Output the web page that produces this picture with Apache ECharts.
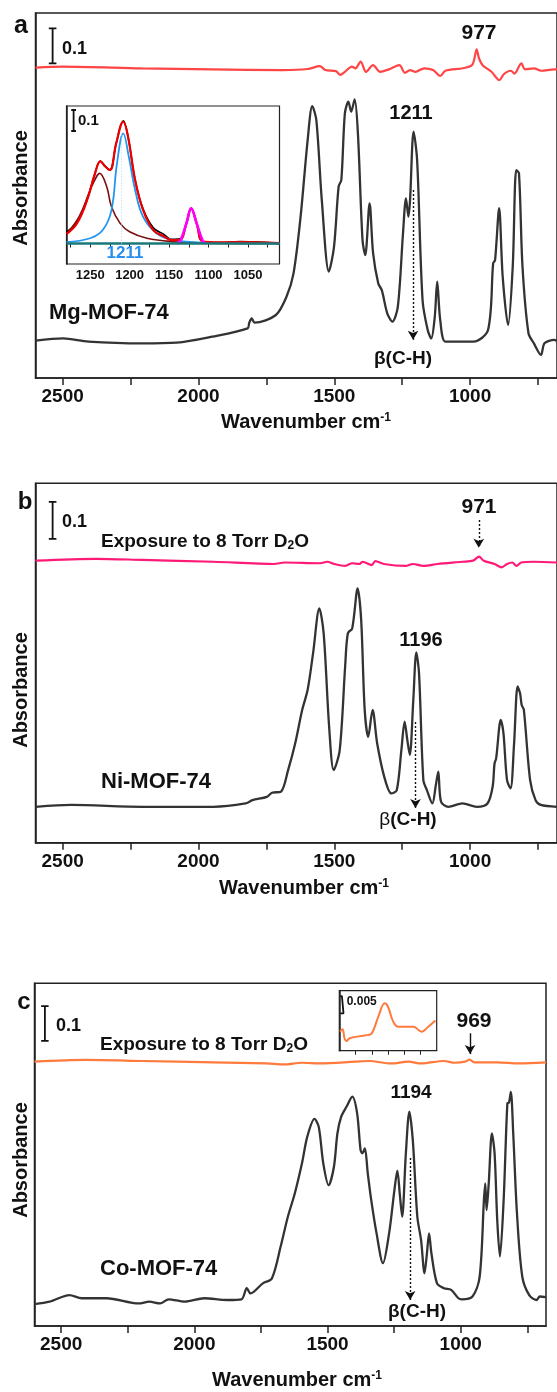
<!DOCTYPE html>
<html>
<head>
<meta charset="utf-8">
<script src="https://cdn.jsdelivr.net/npm/echarts@6/dist/echarts.min.js"></script>
<style>
html,body{margin:0;padding:0;background:#fff;}
#chart{width:557px;height:1392px;}
</style>
</head>
<body>
<div id="chart"></div>
<script>
// x tick / label values (wavenumber, cm-1)
var xTicks = [750, 1000, 1250, 1500, 1750, 2000, 2250, 2500];
var xLabels = [1000, 1500, 2000, 2500];
var insetTicks = [1025, 1050, 1075, 1100, 1125, 1150, 1175, 1200, 1225, 1250, 1275];
var insetLabels = [1050, 1100, 1150, 1200, 1250];
var insetCTicks = [915, 940, 965, 990, 1015];

// panel a : Mg-MOF-74
var mgSpectrum = [[2600,0.107],[2499,0.113],[2405,0.104],[2210,0.099],[2080,0.101],[1949,0.118],[1819,0.142],[1813,0.158],[1804,0.170],[1793,0.158],[1715,0.180],[1676,0.232],[1650,0.299],[1624,0.461],[1598,0.680],[1581,0.777],[1566,0.737],[1546,0.509],[1520,0.304],[1501,0.375],[1484,0.547],[1474,0.566],[1461,0.756],[1448,0.790],[1438,0.761],[1425,0.796],[1413,0.699],[1396,0.394],[1386,0.351],[1370,0.499],[1357,0.356],[1338,0.270],[1325,0.251],[1305,0.185],[1286,0.161],[1266,0.204],[1247,0.413],[1236,0.513],[1227,0.461],[1221,0.509],[1208,0.704],[1195,0.623],[1175,0.223],[1156,0.137],[1143,0.113],[1130,0.175],[1121,0.275],[1110,0.166],[1091,0.104],[1039,0.104],[987,0.104],[934,0.137],[915,0.328],[908,0.337],[893,0.485],[880,0.290],[860,0.151],[843,0.318],[830,0.594],[820,0.585],[807,0.318],[785,0.128],[765,0.099],[739,0.066],[726,0.099],[690,0.109],[680,0.105]];
var mgDiff = [[2600,0.887],[2500,0.890],[2210,0.885],[1950,0.882],[1690,0.880],[1598,0.883],[1553,0.891],[1533,0.880],[1494,0.877],[1478,0.866],[1461,0.875],[1435,0.890],[1422,0.885],[1403,0.904],[1383,0.875],[1357,0.894],[1331,0.875],[1299,0.882],[1260,0.894],[1240,0.872],[1221,0.880],[1201,0.875],[1169,0.885],[1136,0.880],[1110,0.863],[1091,0.878],[1026,0.885],[993,0.894],[984,0.913],[976,0.939],[967,0.913],[954,0.894],[921,0.875],[892,0.851],[876,0.868],[850,0.878],[837,0.870],[811,0.899],[798,0.882],[765,0.885],[739,0.878],[690,0.882],[680,0.882]];

// panel a inset : band fit 1280-1010
var insetData = [[1280,0.055],[1267,0.100],[1254,0.207],[1244,0.334],[1237,0.393],[1231,0.369],[1225,0.350],[1217,0.477],[1208,0.585],[1202,0.509],[1193,0.302],[1183,0.165],[1170,0.075],[1157,0.045],[1147,0.020],[1136,0.022],[1128,0.096],[1122,0.168],[1115,0.096],[1107,0.009],[1086,0.004],[1060,0.009],[1010,0.0]];
var insetFit = [[1280,0.045],[1267,0.094],[1254,0.205],[1244,0.332],[1237,0.391],[1231,0.367],[1225,0.350],[1217,0.477],[1208,0.580],[1202,0.509],[1193,0.302],[1183,0.160],[1170,0.064],[1157,0.035],[1147,0.016],[1136,0.018],[1128,0.096],[1122,0.166],[1115,0.096],[1107,0.009],[1086,0.005],[1060,0.007],[1010,0.002]];
var band1237 = [[1280,0.046],[1264,0.128],[1250,0.255],[1242,0.318],[1238,0.334],[1229,0.270],[1223,0.175],[1212,0.096],[1200,0.056],[1178,0.025],[1145,0.009],[1100,0.002],[1010,0]];
var band1211 = [[1280,0.007],[1250,0.025],[1234,0.064],[1223,0.159],[1216,0.382],[1208,0.525],[1201,0.413],[1193,0.255],[1183,0.128],[1166,0.049],[1145,0.017],[1103,0.004],[1010,0]];
var band1122 = [[1140,0],[1136,0.010],[1128,0.096],[1122,0.168],[1115,0.096],[1107,0.010],[1103,0]];
var insetBase = [[1280,0],[1010,0]];

// panel b : Ni-MOF-74
var niSpectrum = [[2600,0.097],[2469,0.102],[2207,0.097],[1945,0.097],[1827,0.106],[1801,0.115],[1748,0.124],[1729,0.135],[1696,0.138],[1670,0.196],[1644,0.268],[1618,0.359],[1598,0.413],[1578,0.512],[1555,0.633],[1539,0.565],[1519,0.314],[1502,0.196],[1480,0.250],[1460,0.476],[1450,0.566],[1434,0.579],[1414,0.687],[1401,0.602],[1388,0.359],[1375,0.286],[1359,0.359],[1342,0.268],[1316,0.178],[1290,0.133],[1270,0.142],[1253,0.250],[1241,0.327],[1231,0.277],[1222,0.237],[1209,0.386],[1198,0.514],[1188,0.458],[1172,0.169],[1159,0.142],[1139,0.106],[1126,0.156],[1117,0.192],[1107,0.111],[1080,0.097],[1028,0.106],[975,0.097],[936,0.106],[917,0.151],[910,0.214],[904,0.228],[887,0.332],[877,0.295],[864,0.169],[851,0.147],[838,0.268],[825,0.422],[816,0.404],[810,0.372],[802,0.359],[779,0.169],[759,0.115],[740,0.102],[680,0.097]];
var niDiff = [[2600,0.762],[2377,0.767],[2207,0.764],[1945,0.759],[1722,0.753],[1683,0.757],[1552,0.755],[1526,0.759],[1500,0.753],[1460,0.748],[1434,0.755],[1408,0.753],[1395,0.759],[1362,0.750],[1349,0.761],[1317,0.753],[1238,0.748],[1211,0.753],[1172,0.748],[1120,0.753],[1028,0.759],[989,0.762],[967,0.773],[950,0.762],[910,0.753],[884,0.744],[864,0.753],[845,0.757],[829,0.748],[812,0.757],[766,0.759],[680,0.757]];

// panel c : Co-MOF-74
var coSpectrum = [[2600,0.063],[2543,0.070],[2469,0.089],[2423,0.080],[2329,0.080],[2209,0.065],[2169,0.070],[2129,0.065],[2096,0.077],[2036,0.070],[1963,0.080],[1876,0.075],[1823,0.077],[1803,0.109],[1789,0.094],[1743,0.123],[1709,0.137],[1676,0.229],[1649,0.315],[1623,0.382],[1596,0.469],[1576,0.546],[1549,0.597],[1533,0.574],[1516,0.469],[1496,0.406],[1476,0.459],[1463,0.555],[1449,0.603],[1429,0.632],[1407,0.661],[1389,0.613],[1376,0.507],[1369,0.498],[1360,0.512],[1349,0.440],[1336,0.363],[1316,0.267],[1292,0.181],[1269,0.267],[1249,0.392],[1238,0.448],[1229,0.382],[1220,0.315],[1206,0.498],[1193,0.618],[1180,0.536],[1163,0.315],[1149,0.248],[1136,0.152],[1127,0.209],[1119,0.267],[1110,0.209],[1089,0.123],[1063,0.109],[1036,0.104],[1009,0.080],[996,0.077],[956,0.085],[929,0.142],[913,0.363],[908,0.411],[903,0.334],[895,0.411],[883,0.555],[873,0.498],[863,0.305],[853,0.200],[839,0.363],[825,0.642],[819,0.644],[812,0.675],[803,0.555],[789,0.325],[769,0.142],[743,0.089],[716,0.075],[703,0.085],[680,0.083]];
var coDiff = [[2600,0.762],[2409,0.767],[2196,0.764],[1929,0.760],[1729,0.757],[1663,0.754],[1596,0.759],[1529,0.757],[1396,0.762],[1343,0.764],[1263,0.757],[1196,0.762],[1149,0.757],[1063,0.764],[1023,0.759],[983,0.762],[967,0.768],[949,0.760],[863,0.760],[783,0.757],[680,0.760]];
var coInset = [[1039,0.0055],[1035,0.0062],[1032,0.0036],[1029,0.0028],[1024,0.0036],[998,0.0045],[990,0.0050],[980,0.0098],[970,0.0137],[965,0.0127],[957,0.0084],[949,0.0069],[926,0.0069],[913,0.0055],[903,0.0069],[892,0.0087]];

var FONT = '"Liberation Sans", Arial, sans-serif';
var AXC = '#222';

var chart = echarts.init(document.getElementById('chart'));

function plain(v){ return String(v); }   // no thousands separator
function gridBox(left, top, width, height, bw){
    return {left:left, top:top, width:width, height:height, show:true, borderColor:AXC, borderWidth:bw || 1.5, backgroundColor:'transparent', containLabel:false};
}
function mainX(gi, margin){
    return {type:'value', gridIndex:gi, min:680, max:2600, inverse:true,
        axisLine:{show:true, lineStyle:{color:AXC, width:1.5}},
        axisTick:{show:true, length:7, customValues:xTicks, lineStyle:{color:AXC, width:1.5}},
        axisLabel:{customValues:xLabels, formatter:plain, margin:margin, fontSize:19, fontWeight:'bold', color:'#111', fontFamily:FONT},
        splitLine:{show:false}};
}
function plainY(gi, min, max){
    return {type:'value', gridIndex:gi, min:min, max:max,
        axisLine:{show:true, onZero:false, lineStyle:{color:AXC, width:1.5}},
        axisTick:{show:false}, axisLabel:{show:false}, splitLine:{show:false}};
}
function line(gi, data, color, width, extra){
    var s = {type:'line', xAxisIndex:gi, yAxisIndex:gi, data:data, symbol:'none', showSymbol:false,
        smooth:0.3, silent:true, animation:false,
        lineStyle:{color:color, width:width}};
    for (var k in extra) s[k] = extra[k];
    return s;
}
// scale bar "I" shape drawn in data coordinates
function bar(gi, x, y0, y1, hw){
    return {type:'line', xAxisIndex:gi, yAxisIndex:gi, symbol:'none', silent:true, animation:false,
        data:[[x+hw,y0],[x-hw,y0],[x,y0],[x,y1],[x+hw,y1],[x-hw,y1]],
        lineStyle:{color:'#111', width:1.8}};
}
function arrow(x, y0, y1, dotted){
    return {silent:true, symbol:['none','arrow'], symbolSize:[8,9], label:{show:false},
        lineStyle:{color:'#111', width:1.4, type: dotted ? [2,2] : 'solid'},
        data:[[{coord:[x,y0]},{coord:[x,y1]}]]};
}
function txt(x, y, text, size, opt){
    opt = opt || {};
    return {type:'text', x:x, y:y, rotation:opt.rot || 0, z:100,
        style:{text:text, fill:opt.color || '#111', fontSize:size, fontWeight:opt.weight || 'bold', fontFamily:FONT,
            align:opt.align || 'center', verticalAlign:'middle', rich:opt.rich}};
}
var supRich = {m:{fontSize:20, fontWeight:'bold', fontFamily:FONT, fill:'#111', verticalAlign:'middle'},
               s:{fontSize:12, fontWeight:'bold', fontFamily:FONT, fill:'#111', verticalAlign:'top'}};
var subRich = {m:{fontSize:19, fontWeight:'bold', fontFamily:FONT, fill:'#111', verticalAlign:'middle'},
               s:{fontSize:12, fontWeight:'bold', fontFamily:FONT, fill:'#111', verticalAlign:'bottom'}};
function betaRich(bw){
    return {g:{fontSize:19, fontWeight:bw, fontFamily:FONT, fill:'#111'}, t:{fontSize:19, fontWeight:'bold', fontFamily:FONT, fill:'#111'}};
}

var option = {
    backgroundColor:'#fff',
    animation:false,
    grid:[
        gridBox(35.5, 13, 524.2, 365),
        gridBox(35.5, 483.3, 522, 359.4),
        gridBox(34.5, 983.3, 511.5, 342.7),
        gridBox(66.5, 106, 213, 158, 1.2),
        gridBox(339.3, 990.7, 97.4, 60, 1.2)
    ],
    xAxis:[
        mainX(0, 9), mainX(1, 10), mainX(2, 9),
        {type:'value', gridIndex:3, min:1010, max:1280, inverse:true,
            axisLine:{show:true, lineStyle:{color:AXC, width:1.2}},
            axisTick:{show:true, length:4, customValues:insetTicks, lineStyle:{color:AXC}},
            axisLabel:{customValues:insetLabels, formatter:plain, margin:5, fontSize:13, fontWeight:'bold', color:'#111', fontFamily:FONT},
            splitLine:{show:false}},
        {type:'value', gridIndex:4, min:890, max:1040, inverse:true,
            axisLine:{show:true, lineStyle:{color:AXC, width:1.2}},
            axisTick:{show:true, length:4, customValues:insetCTicks, lineStyle:{color:AXC}},
            axisLabel:{show:false}, splitLine:{show:false}}
    ],
    yAxis:[
        plainY(0, 0, 1.043), plainY(1, 0, 0.971), plainY(2, 0, 0.988),
        plainY(3, -0.0976, 0.655), plainY(4, 0, 0.01734)
    ],
    series:[
        // panel a
        line(0, mgDiff, '#ff4545', 2.2),
        line(0, mgSpectrum, '#333333', 2.3, {markLine:arrow(1210, 0.537, 0.109, true)}),
        bar(0, 2537, 0.899, 0.999, 14),
        // inset a
        line(3, insetData, '#000000', 1.6, {smooth:0.4}),
        line(3, band1237, '#7a1010', 1.6, {smooth:0.4}),
        line(3, band1211, '#2196f0', 1.8, {smooth:0.4,
            markLine:{silent:true, symbol:'none', label:{show:false}, lineStyle:{color:'#a8d0f4', width:1, type:[1,2]},
                data:[[{coord:[1211,0]},{coord:[1211,0.525]}]]}}),
        line(3, insetFit, '#ee0000', 2.2, {smooth:0.4}),
        line(3, band1122, '#ff00ff', 2.6, {smooth:0.4}),
        line(3, insetBase, '#1a7878', 2.6, {smooth:false}),
        bar(3, 1271, 0.536, 0.636, 3),
        // panel b
        line(1, niDiff, '#ff1a78', 2.2, {markLine:arrow(968, 0.872, 0.797, true)}),
        line(1, niSpectrum, '#333333', 2.3, {markLine:arrow(1201, 0.326, 0.094, true)}),
        bar(1, 2537, 0.821, 0.921, 14),
        // panel c
        line(2, coDiff, '#ff7a3c', 2.2, {markLine:arrow(965, 0.844, 0.784, false)}),
        line(2, coSpectrum, '#333333', 2.3, {markLine:arrow(1190, 0.484, 0.075, true)}),
        bar(2, 2561, 0.822, 0.922, 14),
        // inset c
        line(4, coInset, '#ff7a3c', 2.0, {smooth:0.4}),
        bar(4, 1036, 0.0108, 0.0158, 2.5)
    ],
    graphic:[
        // panel a
        txt(21, 26, 'a', 25),
        txt(62, 49, '0.1', 18, {align:'left'}),
        txt(479, 33, '977', 21),
        txt(411, 113, '1211', 20),
        txt(49, 313, 'Mg-MOF-74', 22, {align:'left'}),
        txt(403, 359, '{g|β}{t|(C-H)}', 19, {rich:betaRich('bold')}),
        txt(21, 188, 'Absorbance', 20, {rot:Math.PI/2}),
        txt(306, 422, '{m|Wavenumber cm}{s|-1}', 20, {rich:supRich}),
        txt(78, 121, '0.1', 15, {align:'left'}),
        txt(125, 253, '1211', 17, {color:'#2a8ef0'}),
        // panel b
        txt(25, 502, 'b', 24),
        txt(62, 522, '0.1', 18, {align:'left'}),
        txt(101, 542, '{m|Exposure to 8 Torr D}{s|2}{m|O}', 19, {align:'left', rich:subRich}),
        txt(479, 507, '971', 21),
        txt(421, 640, '1196', 20),
        txt(101, 782, 'Ni-MOF-74', 22, {align:'left'}),
        txt(408, 820, '{g|β}{t|(C-H)}', 19, {rich:betaRich('normal')}),
        txt(21, 690, 'Absorbance', 20, {rot:Math.PI/2}),
        txt(304, 888, '{m|Wavenumber cm}{s|-1}', 20, {rich:supRich}),
        // panel c
        txt(24, 1002, 'c', 24),
        txt(56, 1026, '0.1', 18, {align:'left'}),
        txt(100, 1045, '{m|Exposure to 8 Torr D}{s|2}{m|O}', 19, {align:'left', rich:subRich}),
        txt(474, 1021, '969', 21),
        txt(411, 1093, '1194', 19),
        txt(100, 1269, 'Co-MOF-74', 22, {align:'left'}),
        txt(417, 1312, '{g|β}{t|(C-H)}', 19, {rich:betaRich('bold')}),
        txt(21, 1160, 'Absorbance', 20, {rot:Math.PI/2}),
        txt(297, 1380, '{m|Wavenumber cm}{s|-1}', 20, {rich:supRich}),
        txt(346.7, 1002, '0.005', 12, {align:'left'})
    ]
};
chart.setOption(option);
</script>
</body>
</html>
